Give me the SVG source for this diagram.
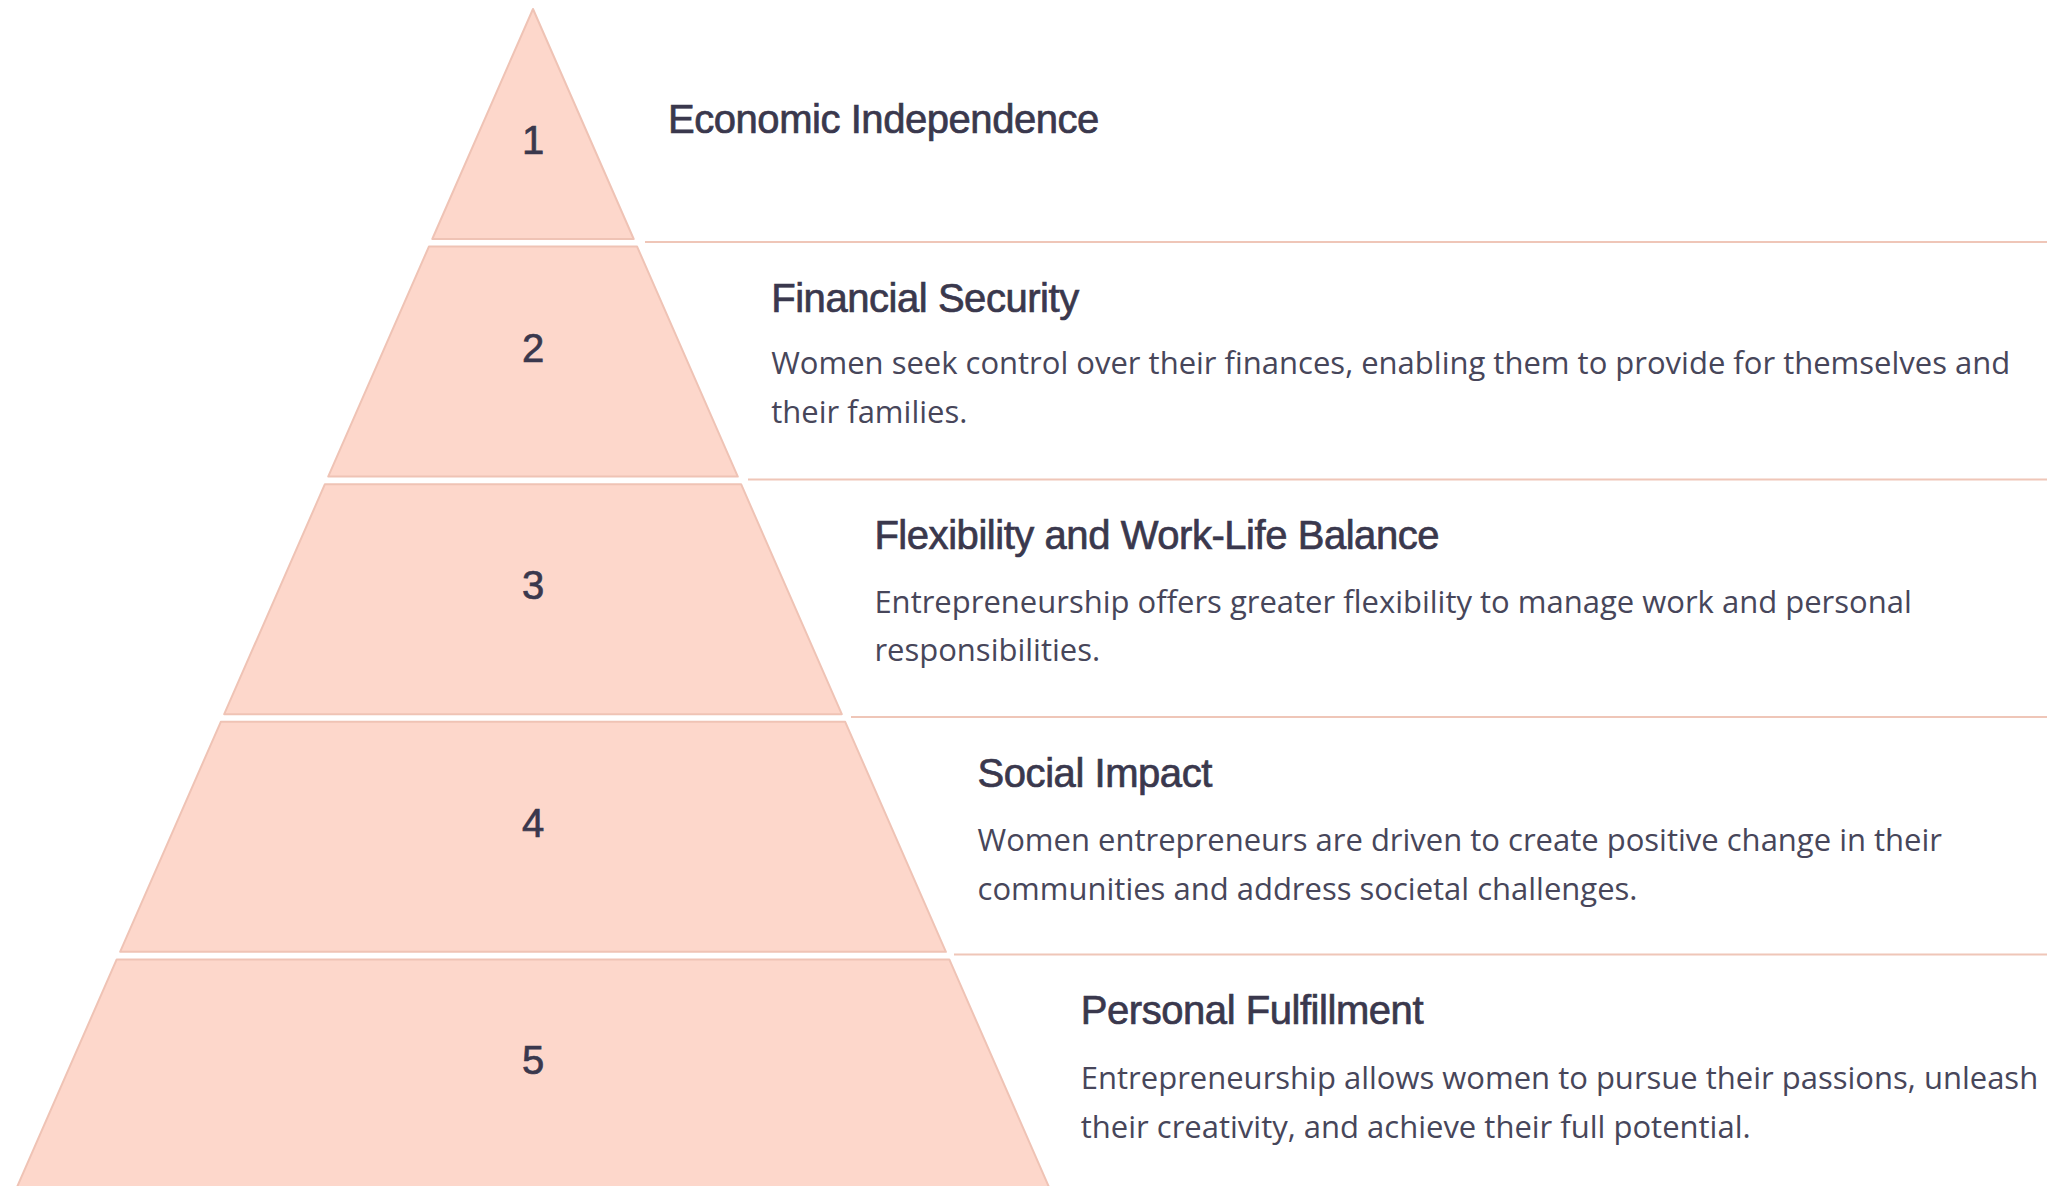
<svg xmlns="http://www.w3.org/2000/svg" width="2047" height="1186" viewBox="0 0 2047 1186">
<style>
.tier{fill:#fdd7cb;stroke:#efc3b5;stroke-width:2;stroke-linejoin:round}
.num{font-family:"Liberation Sans",Arial,sans-serif;font-size:40px;fill:#3a384d;stroke:#3a384d;stroke-width:0.7px;text-anchor:middle}
.title{font-family:"Liberation Sans",Arial,sans-serif;font-size:40px;letter-spacing:-0.45px;fill:#3a384d;stroke:#3a384d;stroke-width:0.7px}
.desc{font-family:"Open Sans","Noto Sans",sans-serif;font-size:31px;fill:#47465a}
.sep{stroke:#efc6b8;stroke-width:2;fill:none}
</style>
<rect width="2047" height="1186" fill="#ffffff"/>
<g id="separators">
<line class="sep" x1="645" y1="242" x2="2047" y2="242"/>
<line class="sep" x1="748" y1="479.5" x2="2047" y2="479.5"/>
<line class="sep" x1="851" y1="717" x2="2047" y2="717"/>
<line class="sep" x1="954" y1="954.5" x2="2047" y2="954.5"/>
</g>
<g id="tier1">
<polygon class="tier" points="533,9 633.7,239 432.3,239"/>
<text class="num" x="533" y="154">1</text>
<text class="title" x="668" y="133">Economic Independence</text>
</g>
<g id="tier2">
<polygon class="tier" points="637.1,246.6 737.8,476.6 328.2,476.6 428.9,246.6"/>
<text class="num" x="533" y="361.5">2</text>
<text class="title" x="771.2" y="311.5">Financial Security</text>
<text class="desc" x="771.2" y="374">Women seek control over their finances, enabling them to provide for themselves and</text>
<text class="desc" x="771.2" y="422.5">their families.</text>
</g>
<g id="tier3">
<polygon class="tier" points="741.1,484.2 841.8,714.2 224.2,714.2 324.9,484.2"/>
<text class="num" x="533" y="599.1">3</text>
<text class="title" x="874.4" y="549.1">Flexibility and Work-Life Balance</text>
<text class="desc" x="874.4" y="612.5">Entrepreneurship offers greater flexibility to manage work and personal</text>
<text class="desc" x="874.4" y="661">responsibilities.</text>
</g>
<g id="tier4">
<polygon class="tier" points="845.2,721.8 945.9,951.8 120.1,951.8 220.8,721.8"/>
<text class="num" x="533" y="836.7">4</text>
<text class="title" x="977.6" y="786.7">Social Impact</text>
<text class="desc" x="977.6" y="851">Women entrepreneurs are driven to create positive change in their</text>
<text class="desc" x="977.6" y="899.5">communities and address societal challenges.</text>
</g>
<g id="tier5">
<polygon class="tier" points="949.3,959.4 1050,1189.4 16,1189.4 116.7,959.4"/>
<text class="num" x="533" y="1074.3">5</text>
<text class="title" x="1080.8" y="1024.3">Personal Fulfillment</text>
<text class="desc" x="1080.8" y="1089">Entrepreneurship allows women to pursue their passions, unleash</text>
<text class="desc" x="1080.8" y="1137.5">their creativity, and achieve their full potential.</text>
</g>
</svg>
